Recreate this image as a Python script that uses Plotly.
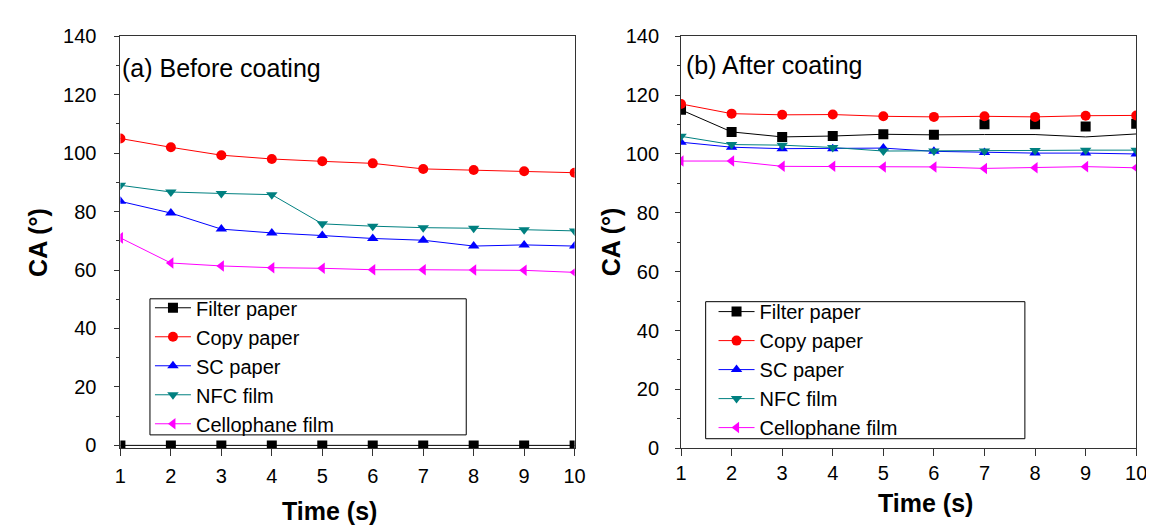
import plotly.graph_objects as go

time_s = [1, 2, 3, 4, 5, 6, 7, 8, 9, 10]

# (a) Before coating
filter_a = [0, 0, 0, 0, 0, 0, 0, 0, 0, 0]
copy_a = [105.0, 102.0, 99.3, 98.0, 97.2, 96.5, 94.6, 94.2, 93.8, 93.3]
sc_a = [83.5, 79.5, 74.0, 72.7, 71.8, 70.8, 70.2, 68.2, 68.6, 68.2]
nfc_a = [89.0, 86.7, 86.2, 85.8, 75.8, 75.0, 74.5, 74.3, 73.8, 73.4]
cello_a = [71.0, 62.4, 61.4, 60.8, 60.6, 60.1, 60.1, 60.0, 59.9, 59.2]

# (b) After coating
filter_b_markers = [115.0, 107.5, 105.8, 106.1, 106.7, 106.5, 110.1, 110.1, 109.3, 110.3]
filter_b_line = [115.0, 107.5, 105.8, 106.1, 106.7, 106.5, 106.6, 106.6, 105.8, 106.8]
copy_b = [117.0, 113.7, 113.3, 113.4, 112.8, 112.6, 112.8, 112.6, 113.0, 113.1]
sc_b = [104.0, 102.3, 101.8, 101.8, 102.0, 100.9, 100.5, 100.3, 100.3, 100.0]
nfc_b = [106.0, 103.2, 103.0, 102.2, 101.0, 101.0, 101.0, 101.2, 101.3, 101.3]
cello_b = [97.6, 97.6, 95.8, 95.8, 95.6, 95.6, 95.1, 95.3, 95.7, 95.3]

names = ["Filter paper", "Copy paper", "SC paper", "NFC film", "Cellophane film"]
colors = ["#000000", "#FF0000", "#0000FF", "#008080", "#FF00FF"]
symbols = ["square", "circle", "triangle-up", "triangle-down", "triangle-left"]

FONT = "Arial, Liberation Sans, sans-serif"
W, H = 1154, 527
fig = go.Figure()

# Panel (a)
for n, c, s, ys in zip(names, colors, symbols, [filter_a, copy_a, sc_a, nfc_a, cello_a]):
    fig.add_trace(go.Scatter(x=time_s, y=ys, mode="lines+markers", name=n,
                             line=dict(color=c, width=1),
                             marker=dict(color=c, symbol=s, size=10),
                             xaxis="x", yaxis="y", legend="legend"))

# Panel (b)
fig.add_trace(go.Scatter(x=time_s, y=filter_b_line, mode="lines", name=names[0],
                         line=dict(color=colors[0], width=1), showlegend=False,
                         xaxis="x2", yaxis="y2"))
fig.add_trace(go.Scatter(x=time_s, y=filter_b_markers, mode="markers", name=names[0],
                         marker=dict(color=colors[0], symbol=symbols[0], size=10),
                         showlegend=False, xaxis="x2", yaxis="y2"))
fig.add_trace(go.Scatter(x=[None], y=[None], mode="lines+markers", name=names[0],
                         line=dict(color=colors[0], width=1),
                         marker=dict(color=colors[0], symbol=symbols[0], size=10),
                         xaxis="x2", yaxis="y2", legend="legend2"))
for n, c, s, ys in zip(names[1:], colors[1:], symbols[1:], [copy_b, sc_b, nfc_b, cello_b]):
    fig.add_trace(go.Scatter(x=time_s, y=ys, mode="lines+markers", name=n,
                             line=dict(color=c, width=1),
                             marker=dict(color=c, symbol=s, size=10),
                             xaxis="x2", yaxis="y2", legend="legend2"))

def px_x(p):
    return p / W

def px_y(p):
    return 1 - p / H

dom_a = [px_x(108), px_x(569)]
dom_b = [px_x(677), px_x(1139)]
ydom = [px_y(448), px_y(18)]

tickfont = dict(family=FONT, size=20, color="#000")
xcommon = dict(range=[1, 10], tickvals=time_s, ticks="outside", ticklen=7, tickwidth=1,
               tickcolor="#333", showline=True, linecolor="#333", linewidth=1, mirror=True,
               showgrid=False, zeroline=False, tickfont=tickfont)
ycommon = dict(dtick=20, ticks="outside", ticklen=5, tickwidth=1, tickcolor="#333",
               showline=True, linecolor="#333", linewidth=1, mirror=True,
               showgrid=False, zeroline=False,
               minor=dict(ticks="outside", ticklen=3, dtick=10, tickcolor="#333"),
               tickfont=tickfont)
title_font = dict(family=FONT, size=25, color="#000")

legcommon = dict(bgcolor="rgba(0,0,0,0)", borderwidth=0,
                 font=dict(family=FONT, size=20, color="#000"),
                 traceorder="normal", tracegroupgap=0, itemwidth=36,
                 xanchor="left", yanchor="top")

fig.update_layout(
    width=W, height=H,
    margin=dict(l=0, r=0, t=0, b=0),
    paper_bgcolor="white", plot_bgcolor="white",
    xaxis=dict(domain=dom_a, anchor="y", ticklabelstandoff=3, **xcommon),
    yaxis=dict(domain=ydom, anchor="x", range=[-1, 140], ticklabelstandoff=14, **ycommon),
    xaxis2=dict(domain=dom_b, anchor="y2", **xcommon),
    yaxis2=dict(domain=ydom, anchor="x2", range=[0, 140], ticklabelstandoff=12, **ycommon),
    legend=dict(x=px_x(138), y=px_y(281), **legcommon),
    legend2=dict(x=px_x(710), y=px_y(285), **legcommon),
    shapes=[
        dict(type="rect", xref="paper", yref="paper",
             x0=px_x(138), x1=px_x(459), y0=px_y(434), y1=px_y(292),
             line=dict(color="#000", width=1), fillcolor="white", layer="below"),
        dict(type="rect", xref="paper", yref="paper",
             x0=px_x(702), x1=px_x(1026), y0=px_y(438), y1=px_y(295),
             line=dict(color="#000", width=1), fillcolor="white", layer="below"),
    ],
    annotations=[
        dict(text="(a) Before coating", x=px_x(108), y=px_y(51), xref="paper", yref="paper",
             xanchor="left", yanchor="middle", showarrow=False,
             font=dict(family=FONT, size=25, color="#000")),
        dict(text="(b) After coating", x=px_x(680), y=px_y(48), xref="paper", yref="paper",
             xanchor="left", yanchor="middle", showarrow=False,
             font=dict(family=FONT, size=25, color="#000")),
        dict(text="<b>CA (°)</b>", x=px_x(25), y=px_y(233), xref="paper", yref="paper",
             textangle=-90, xanchor="center", yanchor="middle", showarrow=False, font=title_font),
        dict(text="<b>CA (°)</b>", x=px_x(606), y=px_y(233), xref="paper", yref="paper",
             textangle=-90, xanchor="center", yanchor="middle", showarrow=False, font=title_font),
        dict(text="<b>Time (s)</b>", x=px_x(320), y=px_y(513), xref="paper", yref="paper",
             xanchor="center", yanchor="middle", showarrow=False, font=title_font),
        dict(text="<b>Time (s)</b>", x=px_x(925), y=px_y(505), xref="paper", yref="paper",
             xanchor="center", yanchor="middle", showarrow=False, font=title_font),
    ],
)

fig.write_html("out.html")
